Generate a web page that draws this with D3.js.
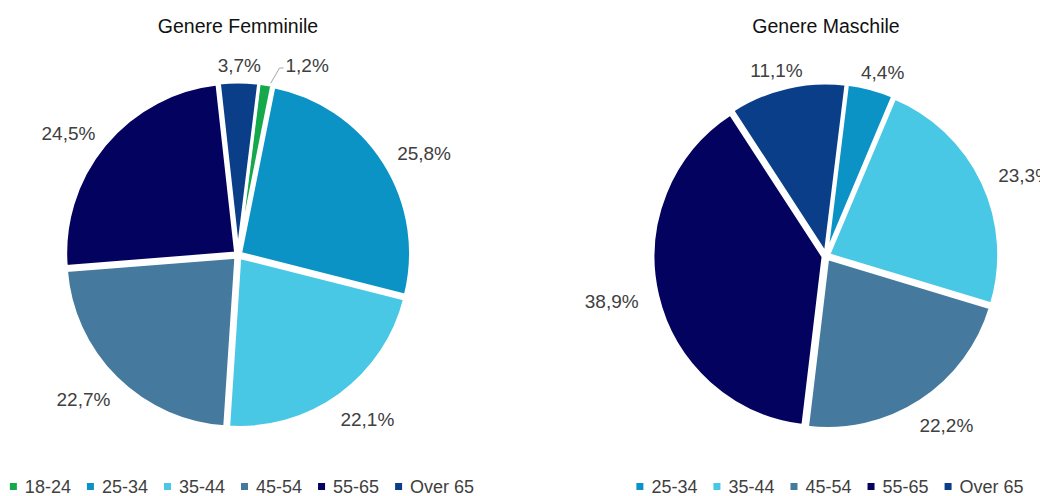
<!DOCTYPE html>
<html>
<head>
<meta charset="utf-8">
<script src="https://cdn.jsdelivr.net/npm/d3@7"></script>
<style>
  html, body { margin: 0; padding: 0; background: #fff; }
  svg { display: block; font-family: "Liberation Sans", Arial, sans-serif; }
</style>
</head>
<body>
<div id="chart"></div>
<script>
// Data
const categoriesF = ["18-24", "25-34", "35-44", "45-54", "55-65", "Over 65"];
const valuesF = [1.2, 25.8, 22.1, 22.7, 24.5, 3.7];

const categoriesM = ["25-34", "35-44", "45-54", "55-65", "Over 65"];
const valuesM = [4.4, 23.3, 22.2, 38.9, 11.1];

const titles = ["Genere Femminile", "Genere Maschile"];

const allCategories = ["18-24", "25-34", "35-44", "45-54", "55-65", "Over 65"];
const sliceColors = ["#16a94c", "#0b93c6", "#48c8e4", "#457a9e", "#03035f", "#0a3e88"];

const width = 1040, height = 496;
const radius = 170;
const explode = 3;

const color = d3.scaleOrdinal().domain(allCategories).range(sliceColors);
const fmt = v => d3.format(".1f")(v).replace(".", ",") + "%";

const svg = d3.select("#chart").append("svg")
    .attr("width", width)
    .attr("height", height);

// one pie per gender
const charts = [
    { title: titles[0], cats: categoriesF, vals: valuesF, cx: 238, cy: 255 },
    { title: titles[1], cats: categoriesM, vals: valuesM, cx: 826, cy: 256 }
];

const startAngle = 7 * Math.PI / 180;

const pie = d3.pie()
    .sort(null)
    .value(d => d.value)
    .startAngle(startAngle)
    .endAngle(startAngle + 2 * Math.PI);

const arc = d3.arc().innerRadius(0).outerRadius(radius);

// label ring: a bit wider than tall, like the spreadsheet's outside-end labels
const labelRx = 220, labelRyTop = 190, labelRyBottom = 203;

charts.forEach(function (c) {
    const data = c.cats.map((k, i) => ({ cat: k, value: c.vals[i] }));
    const arcs = pie(data);

    const g = svg.append("g").attr("transform", `translate(${c.cx},${c.cy})`);

    // title
    svg.append("text")
        .attr("x", c.cx)
        .attr("y", 33)
        .attr("text-anchor", "middle")
        .style("font-size", "19.5px")
        .style("fill", "#111")
        .text(c.title);

    // slices, slightly exploded
    g.selectAll("path.slice")
        .data(arcs)
        .enter().append("path")
        .attr("class", "slice")
        .attr("d", arc)
        .attr("transform", function (d) {
            const m = (d.startAngle + d.endAngle) / 2;
            return `translate(${explode * Math.sin(m)},${-explode * Math.cos(m)})`;
        })
        .style("fill", d => color(d.data.cat))
        .style("stroke", "#fff")
        .style("stroke-width", 3)
        .style("stroke-linejoin", "round");

    // labels outside the pie
    arcs.forEach(function (d) {
        const small = d.data.value < 2;
        const m0 = (d.startAngle + d.endAngle) / 2;
        const m = small ? m0 + 0.16 : m0;

        const t = g.append("text")
            .attr("text-anchor", "middle")
            .style("font-size", "19px")
            .style("fill", "#404040")
            .text(fmt(d.data.value));

        const w = t.node().getComputedTextLength();
        const ry = Math.cos(m) >= 0 ? labelRyTop : labelRyBottom;
        const x = labelRx * Math.sin(m);
        const y = small ? -labelRyTop : -ry * Math.cos(m);
        t.attr("x", x).attr("y", y + 6.5);

        if (small) {
            const r0 = radius + explode + 1;
            g.append("polyline")
                .attr("points", [
                    [r0 * Math.sin(m0) + 5, -r0 * Math.cos(m0)],
                    [x - w / 2 - 6, y + 3],
                    [x - w / 2 - 2, y + 3]
                ].map(p => p.join(",")).join(" "))
                .style("fill", "none")
                .style("stroke", "#a6a6a6")
                .style("stroke-width", 1);
        }
    });

    // legend row, centred under the pie
    const lg = svg.append("g");
    let lx = 0;
    c.cats.forEach(function (k) {
        const item = lg.append("g").attr("transform", `translate(${lx},0)`);
        item.append("rect")
            .attr("x", 0)
            .attr("y", 483)
            .attr("width", 7)
            .attr("height", 7)
            .style("fill", color(k));
        const txt = item.append("text")
            .attr("x", 15)
            .attr("y", 493)
            .style("font-size", "18px")
            .style("fill", "#404040")
            .text(k);
        lx += 15 + txt.node().getComputedTextLength() + 16;
    });
    const legendW = lx - 16;
    lg.attr("transform", `translate(${c.cx + 4 - legendW / 2},0)`);
});
</script>
</body>
</html>
